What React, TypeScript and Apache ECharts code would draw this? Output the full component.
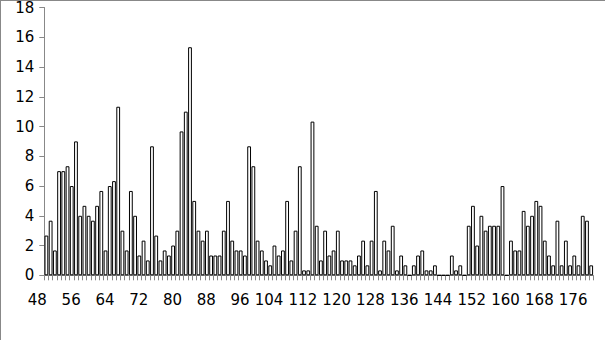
import React, { useEffect, useRef } from "react";
import * as echarts from "echarts";

const startCategory = 48;
const values: number[] = [
  2.67, 3.67, 1.67, 7, 7, 7.33, 6, 9, 4, 4.67, // 48-57
  4, 3.67, 4.67, 5.67, 1.67, 6, 6.33, 11.33, 3, 1.67, // 58-67
  5.67, 4, 1.33, 2.33, 1, 8.67, 2.67, 1, 1.67, 1.33, // 68-77
  2, 3, 9.67, 11, 15.33, 5, 3, 2.33, 3, 1.33, // 78-87
  1.33, 1.33, 3, 5, 2.33, 1.67, 1.67, 1.33, 8.67, 7.33, // 88-97
  2.33, 1.67, 1, 0.67, 2, 1.33, 1.67, 5, 1, 3, // 98-107
  7.33, 0.33, 0.33, 10.33, 3.33, 1, 3, 1.33, 1.67, 3, // 108-117
  1, 1, 1, 0.67, 1.33, 2.33, 0.67, 2.33, 5.67, 0.33, // 118-127
  2.33, 1.67, 3.33, 0.33, 1.33, 0.67, 0, 0.67, 1.33, 1.67, // 128-137
  0.33, 0.33, 0.67, 0, 0, 0, 1.33, 0.33, 0.67, 0, // 138-147
  3.33, 4.67, 2, 4, 3, 3.33, 3.33, 3.33, 6, 0, // 148-157
  2.33, 1.67, 1.67, 4.33, 3.33, 4, 5, 4.67, 2.33, 1.33, // 158-167
  0.67, 3.67, 0.67, 2.33, 0.67, 1.33, 0.67, 4, 3.67, 0.67, // 168-177
];
const categories: string[] = values.map((_, i) => String(startCategory + i));
const labelEvery = 8;
const yTicks = { min: 0, max: 18, interval: 2 };

export default function App() {
  const ref = useRef<HTMLDivElement>(null);
  useEffect(() => {
    if (!ref.current) return;
    const chart = echarts.init(ref.current, undefined, { renderer: "svg" });
    const gray = "#888888";
    const font = "DejaVu Sans";
    chart.setOption({
      animation: false,
      backgroundColor: "#ffffff",
      textStyle: { fontFamily: font },
      grid: { left: 44.3, right: 11.7, top: 6.7, bottom: 64.7, containLabel: false },
      xAxis: {
        type: "category",
        data: categories,
        boundaryGap: true,
        axisLine: { show: true, lineStyle: { color: gray, width: 1 } },
        axisTick: { show: true, interval: 0, length: 5, lineStyle: { color: gray } },
        axisLabel: { show: false },
        splitLine: { show: false },
      },
      yAxis: {
        type: "value",
        min: yTicks.min,
        max: yTicks.max,
        interval: yTicks.interval,
        axisLine: { show: true, lineStyle: { color: gray, width: 1 } },
        axisTick: { show: true, length: 5, lineStyle: { color: gray } },
        axisLabel: { color: "#000000", fontSize: 15, lineHeight: 13, margin: 10, fontFamily: font },
        splitLine: { show: false },
      },
      series: [
        {
          type: "bar",
          data: values,
          barCategoryGap: "10%",
          itemStyle: { color: "#ffffff", borderColor: "#000000", borderWidth: 1 },
        },
      ],
    });

    const axisY = chart.convertToPixel({ yAxisIndex: 0 }, 0) as number;
    const labels: any[] = [];
    categories.forEach((c, i) => {
      if (i % labelEvery !== 0) return;
      const cx = chart.convertToPixel({ xAxisIndex: 0 }, c) as number;
      labels.push({
        type: "text",
        x: cx + 0.5,
        y: axisY + 25,
        style: {
          text: c,
          align: "right",
          verticalAlign: "middle",
          fill: "#000000",
          fontSize: 15,
          fontFamily: font,
        },
      });
    });
    chart.setOption({
      graphic: [
        { type: "line", shape: { x1: 0, y1: 0.5, x2: 605, y2: 0.5 }, style: { stroke: gray, lineWidth: 1 } },
        { type: "line", shape: { x1: 0.5, y1: 0, x2: 0.5, y2: 340 }, style: { stroke: gray, lineWidth: 1 } },
        ...labels,
      ],
    });
    return () => chart.dispose();
  }, []);
  return (
    <div
      ref={ref}
      style={{ position: "fixed", left: 0, top: 0, width: 605, height: 340, background: "#fff" }}
    />
  );
}
